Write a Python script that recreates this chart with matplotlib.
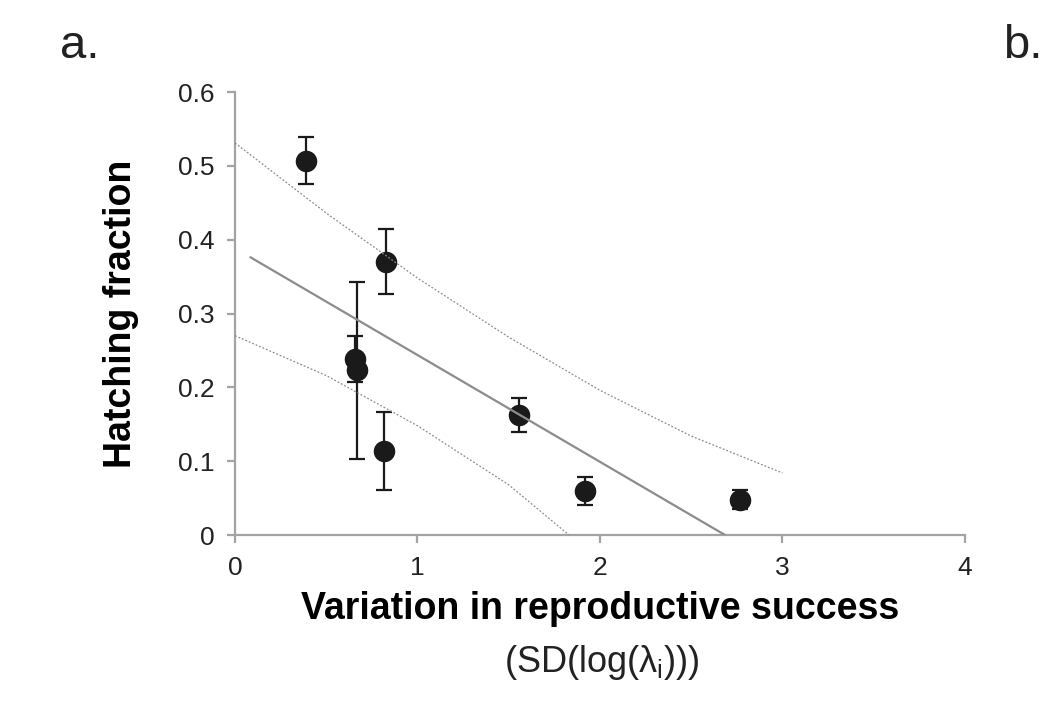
import matplotlib
matplotlib.use('Agg')
import matplotlib.pyplot as plt

plt.rcParams['font.family'] = ['Liberation Sans', 'DejaVu Sans']
plt.rcParams['mathtext.fontset'] = 'custom'
plt.rcParams['mathtext.rm'] = 'Liberation Sans'
plt.rcParams['mathtext.it'] = 'Liberation Sans:italic'

# observed points (SD of log lambda vs hatching fraction) with error bars
sd_log_lambda = [0.39, 0.826, 0.66, 0.67, 0.815, 1.558, 1.918, 2.769]
hatching = [0.507, 0.370, 0.238, 0.223, 0.114, 0.163, 0.059, 0.048]
hatching_err = [0.032, 0.044, 0.031, 0.120, 0.053, 0.023, 0.019, 0.013]

# fitted line
fit_x = [0.086, 2.685]
fit_y = [0.376, 0.0]

# confidence band
upper_x = [0.0, 0.5, 1.0, 1.5, 2.0, 2.5, 3.0]
upper_y = [0.531, 0.436, 0.348, 0.268, 0.196, 0.134, 0.084]
lower_x = [0.0, 0.5, 1.0, 1.5, 1.83]
lower_y = [0.270, 0.216, 0.148, 0.068, 0.0]

x_ticks = [0, 1, 2, 3, 4]
y_ticks = [0, 0.1, 0.2, 0.3, 0.4, 0.5, 0.6]
y_tick_labels = ['0', '0.1', '0.2', '0.3', '0.4', '0.5', '0.6']

axis_gray = '#a3a3a3'
dark = '#1a1a1a'

fig = plt.figure(figsize=(10.43, 7.09), dpi=100)
ax = fig.add_axes([0.2253, 0.2454, 0.6999, 0.6248])

ax.errorbar(sd_log_lambda, hatching, yerr=hatching_err, fmt='o', ms=14.5,
            color=dark, ecolor=dark, elinewidth=1.6, capsize=5.5, capthick=1.6,
            zorder=2)
ax.plot(fit_x, fit_y, color='#8c8c8c', lw=1.6, zorder=3)
ax.plot(upper_x, upper_y, color='#8c8c8c', lw=0.9, ls=(0, (1.5, 1.5)), zorder=3)
ax.plot(lower_x, lower_y, color='#8c8c8c', lw=0.9, ls=(0, (1.5, 1.5)), zorder=3)

ax.set_xlim(0, 4)
ax.set_ylim(0, 0.6)
ax.set_xticks(x_ticks)
ax.set_yticks(y_ticks)
ax.set_yticklabels(y_tick_labels)

for side in ['top', 'right']:
    ax.spines[side].set_visible(False)
for side in ['left', 'bottom']:
    ax.spines[side].set_color(axis_gray)
    ax.spines[side].set_linewidth(1.6)
ax.tick_params(direction='out', length=6, width=1.6, color=axis_gray,
               labelsize=19, labelcolor='#222222')
ax.tick_params(axis='y', pad=9)
ax.tick_params(axis='x', pad=9)

ax.set_ylabel('Hatching fraction', fontsize=27, fontweight='bold', labelpad=28)
ax.set_xlabel('Variation in reproductive success', fontsize=27,
              fontweight='bold', labelpad=8)
fig.text(0.577, 0.066, r'(SD(log(λ$_{\rm i}$)))', fontsize=26,
         ha='center', va='center', color='#222222')

fig.text(0.058, 0.935, 'a.', fontsize=34, color='#222222', va='center')
fig.text(0.962, 0.935, 'b.', fontsize=34, color='#222222', va='center')

fig.savefig('out.png', dpi=100)
